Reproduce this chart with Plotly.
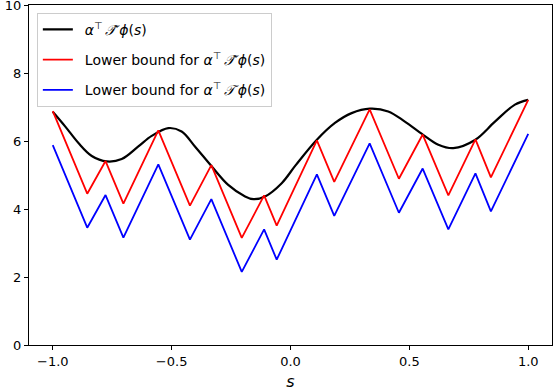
import plotly.graph_objects as go

# smooth curve alpha^T T_hat phi(s)
s_curve = [-1.0, -0.948, -0.892, -0.836, -0.773, -0.710, -0.640, -0.584, -0.514, -0.458,
           -0.402, -0.331, -0.262, -0.191, -0.156, -0.107, -0.037, 0.022, 0.110, 0.187,
           0.257, 0.334, 0.411, 0.481, 0.558, 0.622, 0.685, 0.776, 0.860, 0.944, 1.0]
f_curve = [6.86, 6.43, 5.94, 5.56, 5.40, 5.47, 5.84, 6.15, 6.38, 6.28,
           5.84, 5.25, 4.71, 4.37, 4.29, 4.37, 4.76, 5.29, 6.03, 6.53,
           6.82, 6.95, 6.87, 6.57, 6.18, 5.89, 5.79, 6.03, 6.57, 7.07, 7.21]

# zigzag lower bounds (vertices)
s_bound = [-1.0, -0.855, -0.778, -0.703, -0.556, -0.423, -0.333, -0.205, -0.111, -0.058,
           0.111, 0.184, 0.333, 0.456, 0.556, 0.664, 0.778, 0.843, 1.0]
red_bound = [6.88, 4.45, 5.41, 4.16, 6.31, 4.10, 5.29, 3.15, 4.40, 3.51,
             6.02, 4.80, 6.93, 4.89, 6.19, 4.40, 6.05, 4.93, 7.21]
blue_bound = [5.88, 3.45, 4.41, 3.16, 5.31, 3.10, 4.29, 2.15, 3.40, 2.51,
              5.02, 3.80, 5.93, 3.89, 5.19, 3.40, 5.05, 3.93, 6.21]

FONT = "DejaVu Sans"
math_hat = "<i>α</i><sup>⊤</sup>\u2009<i>𝒯̂</i>\u2009<i>ϕ</i>(<i>s</i>)"
math_plain = "<i>α</i><sup>⊤</sup>\u2009<i>𝒯</i>\u2009<i>ϕ</i>(<i>s</i>)"
pad = "\u2002"  # a little room between legend line and text, as in the original

fig = go.Figure()
fig.add_trace(go.Scatter(x=s_curve, y=f_curve, mode="lines", line_shape="spline",
                         line=dict(color="black", width=2.2), legendgroup="a",
                         name=pad + math_hat))
fig.add_trace(go.Scatter(x=s_bound, y=red_bound, mode="lines",
                         line=dict(color="red", width=1.8), legendgroup="b",
                         name=pad + "Lower bound for " + math_hat))
fig.add_trace(go.Scatter(x=s_bound, y=blue_bound, mode="lines",
                         line=dict(color="blue", width=1.8), legendgroup="c",
                         name=pad + "Lower bound for " + math_plain))

fig.update_layout(
    width=554, height=392,
    margin=dict(l=29, r=2, t=5, b=47),
    paper_bgcolor="white", plot_bgcolor="white",
    font=dict(family=FONT, size=13, color="black"),
    legend=dict(x=0.015, y=0.977, xanchor="left", yanchor="top",
                bgcolor="rgba(255,255,255,0.8)", bordercolor="#cccccc", borderwidth=1,
                tracegroupgap=9, font=dict(family=FONT, size=14)),
    showlegend=True,
)
fig.update_xaxes(range=[-1.1, 1.1], tickvals=[-1.0, -0.5, 0.0, 0.5, 1.0],
                 ticktext=["−1.0", "−0.5", "0.0", "0.5", "1.0"], automargin=False,
                 showgrid=False, zeroline=False, showline=True, mirror=True,
                 linecolor="black", linewidth=1, ticks="outside", ticklen=4,
                 tickcolor="black", ticklabeloverflow="allow",
                 title=dict(text="<i>s</i>", standoff=8))
fig.update_yaxes(range=[0, 10], tickvals=[0, 2, 4, 6, 8, 10], automargin=False,
                 showgrid=False, zeroline=False, showline=True, mirror=True,
                 linecolor="black", linewidth=1, ticks="outside", ticklen=4,
                 tickcolor="black", ticklabeloverflow="allow")

# drop the page's default body margin so the figure sits at the window's corner
fig.write_html("out.html", config={"displayModeBar": False},
               post_script="document.body.style.margin='0';")
